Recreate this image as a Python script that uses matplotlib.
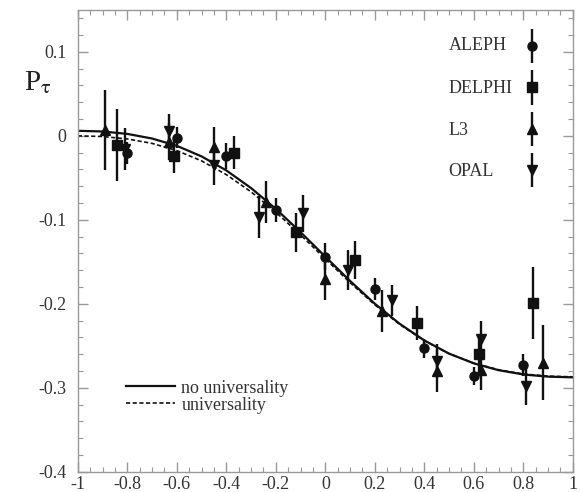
import matplotlib
matplotlib.use("Agg")
import matplotlib.pyplot as plt
from matplotlib.ticker import MultipleLocator
from matplotlib.legend_handler import HandlerErrorbar

plt.rcParams['font.family'] = ['Liberation Serif', 'DejaVu Serif']
plt.rcParams['mathtext.fontset'] = 'stix'
plt.rcParams['axes.unicode_minus'] = False

# tau polarisation per bin of cos(theta), one list set per experiment
aleph_x = [-0.80, -0.60, -0.40, -0.20, 0.00, 0.20, 0.40, 0.60, 0.80]
aleph_y = [-0.020, -0.002, -0.024, -0.088, -0.144, -0.182, -0.253, -0.286, -0.273]
aleph_err = [0.013, 0.012, 0.015, 0.014, 0.016, 0.013, 0.011, 0.011, 0.013]

delphi_x = [-0.84, -0.61, -0.37, -0.12, 0.12, 0.37, 0.62, 0.84]
delphi_y = [-0.011, -0.024, -0.020, -0.115, -0.148, -0.223, -0.260, -0.199]
delphi_err = [0.043, 0.020, 0.020, 0.023, 0.023, 0.020, 0.020, 0.043]

l3_x = [-0.89, -0.63, -0.45, -0.24, 0.00, 0.23, 0.45, 0.63, 0.88]
l3_y = [0.007, -0.007, -0.013, -0.079, -0.170, -0.208, -0.280, -0.279, -0.270]
l3_err = [0.048, 0.022, 0.024, 0.025, 0.025, 0.025, 0.025, 0.023, 0.045]

opal_x = [-0.81, -0.63, -0.45, -0.27, -0.09, 0.09, 0.27, 0.45, 0.63, 0.81]
opal_y = [-0.016, 0.006, -0.035, -0.097, -0.092, -0.160, -0.196, -0.268, -0.242, -0.298]
opal_err = [0.025, 0.020, 0.024, 0.025, 0.022, 0.024, 0.019, 0.020, 0.021, 0.022]

experiments = ['ALEPH', 'DELPHI', 'L3', 'OPAL']

# fitted curves, tabulated every 0.1 in cos(theta)
curve_x = [-1.0, -0.9, -0.8, -0.7, -0.6, -0.5, -0.4, -0.3, -0.2, -0.1, 0.0,
           0.1, 0.2, 0.3, 0.4, 0.5, 0.6, 0.7, 0.8, 0.9, 1.0]
no_univ_y = [0.0060, 0.0052, 0.0023, -0.0032, -0.0119, -0.0245, -0.0412, -0.0622,
             -0.0870, -0.1147, -0.1439, -0.1728, -0.1999, -0.2237, -0.2436, -0.2593,
             -0.2709, -0.2790, -0.2841, -0.2867, -0.2875]
univ_y = [0.0000, -0.0008, -0.0037, -0.0090, -0.0176, -0.0298, -0.0462, -0.0667,
          -0.0909, -0.1180, -0.1465, -0.1748, -0.2012, -0.2245, -0.2439, -0.2593,
          -0.2706, -0.2785, -0.2835, -0.2861, -0.2869]

fig = plt.figure(figsize=(5.81, 4.92), dpi=100)
ax = fig.add_axes([0.134, 0.041, 0.852, 0.939])

c1, = ax.plot(curve_x, no_univ_y, color='#111111', lw=1.6, ls='-')
c2, = ax.plot(curve_x, univ_y, color='#111111', lw=1.2, ls=(0, (2.5, 1.5)))

kw = dict(ls='none', color='#111111', ecolor='#111111', elinewidth=1.7, capsize=0)
h1 = ax.errorbar(aleph_x, aleph_y, yerr=aleph_err, marker='o', ms=6.5, **kw)
h2 = ax.errorbar(delphi_x, delphi_y, yerr=delphi_err, marker='s', ms=6.5, **kw)
h3 = ax.errorbar(l3_x, l3_y, yerr=l3_err, marker='^', ms=6.5, **kw)
h4 = ax.errorbar(opal_x, opal_y, yerr=opal_err, marker='v', ms=6.5, **kw)

ax.set_xlim(-1, 1)
ax.set_ylim(-0.4, 0.15)
ax.xaxis.set_minor_locator(MultipleLocator(0.05))
ax.yaxis.set_minor_locator(MultipleLocator(0.02))

xt = [-1, -0.8, -0.6, -0.4, -0.2, 0, 0.2, 0.4, 0.6, 0.8, 1]
ax.set_xticks(xt)
ax.set_xticklabels(['-1', '-0.8', '-0.6', '-0.4', '-0.2', '0', '0.2', '0.4', '0.6', '0.8', '1'])
yt = [-0.4, -0.3, -0.2, -0.1, 0, 0.1]
ax.set_yticks(yt)
ax.set_yticklabels(['-0.4', '-0.3', '-0.2', '-0.1', '0', '0.1'])

for s in ax.spines.values():
    s.set_color('#999999')
    s.set_linewidth(1.0)
ax.tick_params(which='both', direction='in', top=True, right=True, color='#999999',
               labelcolor='#333333', labelsize=13)
ax.tick_params(which='major', length=7, width=1.0)
ax.tick_params(which='minor', length=3.5, width=0.8)
ax.tick_params(axis='x', pad=3)
ax.tick_params(axis='y', pad=8)

fig.text(0.042, 0.832, r'P$_{\mathrm{\tau}}$', fontsize=21, color='#222222',
         ha='left', va='center')

# experiment key: symbols via the legend, names written to their left
leg1 = ax.legend([h1, h2, h3, h4], [''] * 4,
                 loc='upper right', bbox_to_anchor=(0.935, 0.936), markerfirst=False,
                 frameon=False, fontsize=13, labelspacing=1.35, handlelength=1.0,
                 handletextpad=0, borderpad=0, borderaxespad=0,
                 handler_map={type(h1): HandlerErrorbar(yerr_size=0.95)})
ax.add_artist(leg1)
label_y = [0.922, 0.829, 0.738, 0.649]
for name, yy in zip(experiments, label_y):
    ax.text(0.749, yy, name, transform=ax.transAxes, fontsize=13, color='#333333',
            ha='left', va='center')

leg2 = ax.legend([c1, c2], ['no universality', 'universality'], loc='center left',
                 bbox_to_anchor=(0.098, 0.163), frameon=False, fontsize=13,
                 labelspacing=0.0, handlelength=2.7, handletextpad=0.35,
                 borderpad=0, borderaxespad=0)
for t in leg2.get_texts():
    t.set_color('#333333')

fig.savefig('out.png', dpi=100)
